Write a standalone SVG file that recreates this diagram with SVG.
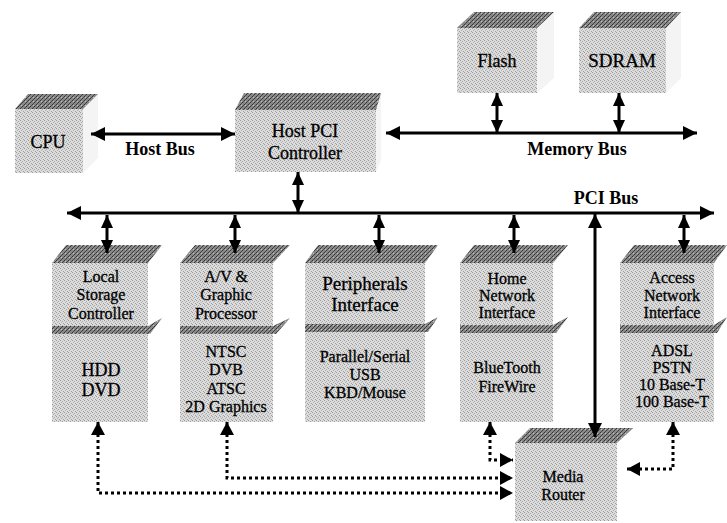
<svg xmlns="http://www.w3.org/2000/svg" width="727" height="523" viewBox="0 0 727 523">
<defs>
<pattern id="pf" width="4" height="4" patternUnits="userSpaceOnUse">
<rect width="4" height="4" fill="#dcdcdc"/>
<rect x="0" y="0" width="1" height="1" fill="#999"/>
<rect x="2" y="1" width="1" height="1" fill="#a8a8a8"/>
<rect x="1" y="2" width="1" height="1" fill="#b0b0b0"/>
<rect x="3" y="3" width="1" height="1" fill="#a0a0a0"/>
</pattern>
<pattern id="pt" width="4" height="4" patternUnits="userSpaceOnUse">
<rect width="4" height="4" fill="#888"/>
<rect x="0" y="0" width="1" height="1" fill="#333"/>
<rect x="2" y="2" width="1" height="1" fill="#333"/>
<rect x="1" y="1" width="1" height="1" fill="#c4c4c4"/>
<rect x="3" y="1" width="1" height="1" fill="#484848"/>
<rect x="1" y="3" width="1" height="1" fill="#484848"/>
</pattern>
<marker id="big" viewBox="0 0 14 14" refX="14" refY="7" markerWidth="14" markerHeight="14" markerUnits="userSpaceOnUse" orient="auto-start-reverse">
<path d="M0,0 L14,7 L0,14 Z" fill="#000"/>
</marker>
<marker id="sm" viewBox="0 0 13 12" refX="13" refY="6" markerWidth="13" markerHeight="12" markerUnits="userSpaceOnUse" orient="auto-start-reverse">
<path d="M0,0 L13,6 L0,12 Z" fill="#000"/>
</marker>
<marker id="dt" viewBox="0 0 13 14" refX="13" refY="7" markerWidth="13" markerHeight="14" markerUnits="userSpaceOnUse" orient="auto-start-reverse">
<path d="M0,0 L13,7 L0,14 Z" fill="#000"/>
</marker>
</defs>
<style>
.front{fill:url(#pf);}
.top{fill:url(#pt);}
.side{fill:#f4f4f4;}
.band{fill:url(#pt);}
text{font-family:"Liberation Serif","Times New Roman",serif;fill:#000;stroke:#000;stroke-width:0.3;text-anchor:middle;}
.t16{font-size:16px;}
.t18{font-size:18px;}
.t19{font-size:19px;}
.lbl{font-size:18px;font-weight:bold;stroke-width:0;}
.bus{stroke:#000;stroke-width:3;fill:none;}
.dot{stroke:#000;stroke-width:3;fill:none;stroke-dasharray:3 3;}
</style>

<g id="cpu">
<polygon class="side" points="83,109 98,94 98,158 83,173"/>
<rect class="front" x="15" y="109" width="68" height="64"/>
<polygon class="top" points="15,109 83,109 98,94 28,94"/>
<text class="t18" x="48" y="148">CPU</text>
</g>

<g id="host-pci">
<polygon class="side" points="376,110 381,93 381,160 376,172"/>
<rect class="front" x="235" y="110" width="141" height="62"/>
<polygon class="top" points="235,110 376,110 381,93 244,93"/>
<text class="t18" x="305" y="137">Host PCI</text>
<text class="t18" x="305" y="159">Controller</text>
</g>

<g id="flash">
<polygon class="side" points="537,28 554,12 554,78 537,93"/>
<rect class="front" x="457" y="28" width="80" height="65"/>
<polygon class="top" points="457,28 537,28 554,12 474,12"/>
<text class="t18" x="497" y="67">Flash</text>
</g>

<g id="sdram">
<polygon class="side" points="666,28 681,12 681,78 666,93"/>
<rect class="front" x="579" y="28" width="87" height="65"/>
<polygon class="top" points="579,28 666,28 681,12 594,12"/>
<text class="t19" x="622" y="67">SDRAM</text>
</g>

<g id="local-storage">
<rect class="front" x="52" y="263" width="96" height="159"/>
<polygon class="top" points="52,263 148,263 162,245 66,245"/>
<polygon class="band" points="52,326 148,326 162,318 150,334 52,334"/>
<text class="t16" x="101" y="282">Local</text>
<text class="t16" x="101" y="300">Storage</text>
<text class="t16" x="101" y="319">Controller</text>
<text class="t18" x="101" y="376">HDD</text>
<text class="t18" x="101" y="396">DVD</text>
</g>

<g id="av-graphic">
<rect class="front" x="180" y="263" width="93" height="159"/>
<polygon class="top" points="180,263 273,263 290,245 195,245"/>
<polygon class="band" points="180,326 273,326 290,318 276,334 180,334"/>
<text class="t16" x="226" y="282">A/V &amp;</text>
<text class="t16" x="226" y="300">Graphic</text>
<text class="t16" x="226" y="319">Processor</text>
<text class="t16" x="226" y="357">NTSC</text>
<text class="t16" x="226" y="375">DVB</text>
<text class="t16" x="226" y="394">ATSC</text>
<text class="t16" x="226" y="412">2D Graphics</text>
</g>

<g id="peripherals">
<rect class="front" x="305" y="263" width="120" height="159"/>
<polygon class="top" points="305,263 425,263 438,245 318,245"/>
<polygon class="band" points="305,324 425,324 438,317 428,332 305,332"/>
<text class="t19" x="365" y="290">Peripherals</text>
<text class="t19" x="365" y="311">Interface</text>
<text class="t16" x="365" y="362">Parallel/Serial</text>
<text class="t16" x="365" y="380">USB</text>
<text class="t16" x="365" y="398">KBD/Mouse</text>
</g>

<g id="home-network">
<rect class="front" x="460" y="263" width="93" height="159"/>
<polygon class="top" points="460,263 553,263 568,245 474,245"/>
<polygon class="band" points="460,325 553,325 568,317 556,333 460,333"/>
<text class="t16" x="507" y="284">Home</text>
<text class="t16" x="507" y="301">Network</text>
<text class="t16" x="507" y="318">Interface</text>
<text class="t16" x="507" y="373">BlueTooth</text>
<text class="t16" x="507" y="392">FireWire</text>
</g>

<g id="access-network">
<rect class="front" x="620" y="263" width="94" height="159"/>
<polygon class="top" points="620,263 714,263 727,245 634,245"/>
<polygon class="band" points="620,325 714,325 727,317 717,333 620,333"/>
<text class="t16" x="672" y="283">Access</text>
<text class="t16" x="672" y="301">Network</text>
<text class="t16" x="672" y="318">Interface</text>
<text class="t16" x="672" y="356">ADSL</text>
<text class="t16" x="672" y="373">PSTN</text>
<text class="t16" x="672" y="390">10 Base-T</text>
<text class="t16" x="672" y="407">100 Base-T</text>
</g>

<g id="media-router">
<rect class="front" x="515" y="443" width="102" height="78"/>
<polygon class="top" points="515,443 617,443 633,428 530,428"/>
<text class="t16" x="563" y="482">Media</text>
<text class="t16" x="563" y="500">Router</text>
</g>

<g id="labels">
<text class="lbl" x="160" y="155">Host Bus</text>
<text class="lbl" x="577" y="155">Memory Bus</text>
<text class="lbl" x="606" y="204">PCI Bus</text>
</g>

<g id="connectors">
<line class="bus" x1="91" y1="134" x2="235" y2="134" marker-start="url(#big)" marker-end="url(#big)"/>
<line class="bus" x1="386" y1="133" x2="697" y2="133" marker-start="url(#big)" marker-end="url(#big)"/>
<line class="bus" x1="497" y1="93" x2="497" y2="133" marker-start="url(#sm)" marker-end="url(#sm)"/>
<line class="bus" x1="619" y1="93" x2="619" y2="133" marker-start="url(#sm)" marker-end="url(#sm)"/>
<line class="bus" x1="67" y1="213" x2="714" y2="213" marker-start="url(#big)" marker-end="url(#big)"/>
<line class="bus" x1="298" y1="172" x2="298" y2="213" marker-start="url(#sm)" marker-end="url(#sm)"/>
<line class="bus" x1="107" y1="215" x2="107" y2="253" marker-start="url(#sm)" marker-end="url(#sm)"/>
<line class="bus" x1="235" y1="215" x2="235" y2="253" marker-start="url(#sm)" marker-end="url(#sm)"/>
<line class="bus" x1="379" y1="215" x2="379" y2="253" marker-start="url(#sm)" marker-end="url(#sm)"/>
<line class="bus" x1="514" y1="215" x2="514" y2="253" marker-start="url(#sm)" marker-end="url(#sm)"/>
<line class="bus" x1="684" y1="215" x2="684" y2="253" marker-start="url(#sm)" marker-end="url(#sm)"/>
<line class="bus" x1="595" y1="214" x2="595" y2="437" marker-start="url(#big)" marker-end="url(#big)"/>
<polyline class="dot" points="98,422 98,493 513,493" marker-start="url(#dt)" marker-end="url(#dt)"/>
<polyline class="dot" points="227,422 227,478 513,478" marker-start="url(#dt)" marker-end="url(#dt)"/>
<polyline class="dot" points="490,422 490,460 513,460" marker-start="url(#dt)" marker-end="url(#dt)"/>
<polyline class="dot" points="673,422 673,469 627,469" marker-start="url(#dt)" marker-end="url(#dt)"/>
</g>
</svg>
